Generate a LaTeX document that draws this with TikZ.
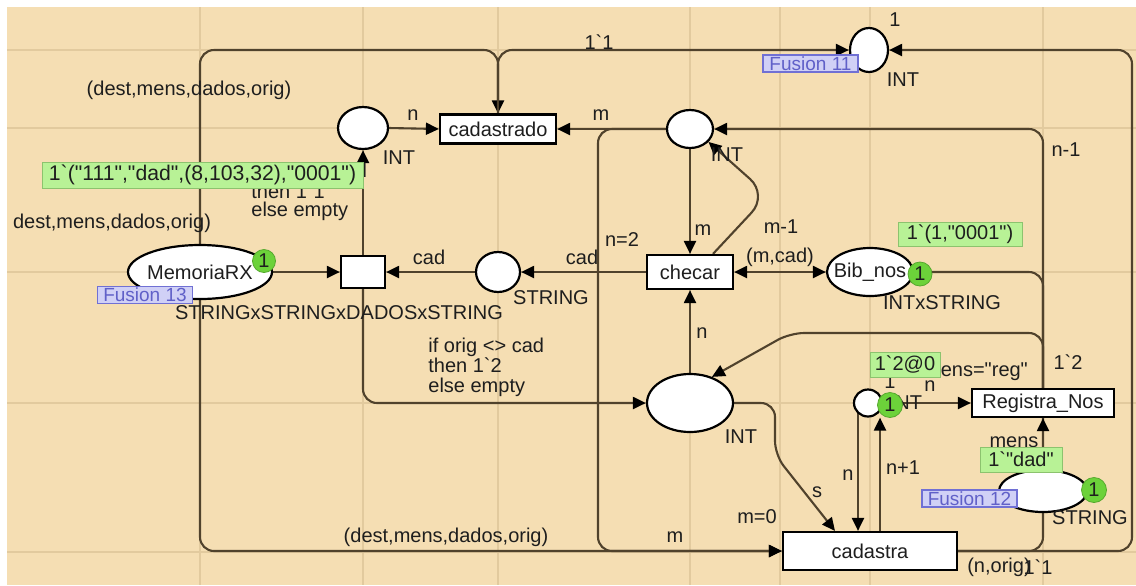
\documentclass[tikz,border=0pt]{standalone}
\usepackage{fontspec}
\newfontfamily\cpnfont{Liberation Sans}
\usetikzlibrary{shapes.geometric,arrows.meta}

\definecolor{bgc}{RGB}{245,222,179}
\definecolor{gridc}{RGB}{226,202,158}
\definecolor{arcc}{RGB}{80,66,44}
\definecolor{txtc}{RGB}{30,30,30}
\definecolor{markc}{RGB}{184,242,150}
\definecolor{markd}{RGB}{140,195,110}
\definecolor{tokc}{RGB}{108,210,58}
\definecolor{fusc}{RGB}{208,208,246}
\definecolor{fusd}{RGB}{112,112,212}
\definecolor{fust}{RGB}{96,96,200}

\pgfdeclarelayer{back}
\pgfdeclarelayer{mid}
\pgfsetlayers{back,mid,main}

\begin{document}
\begin{tikzpicture}[x=0.5pt,y=-0.5pt,>={Triangle[length=6.5pt,width=6pt,color=black]},
  every node/.style={font=\cpnfont,text=txtc},
  place/.style={ellipse,draw,fill=white,line width=1.1pt,inner sep=0pt},
  trans/.style={rectangle,draw,fill=white,line width=1.1pt,inner sep=0pt},
  arc/.style={draw=arcc,line width=1.05pt,rounded corners=7pt,->},
  markbox/.style={rectangle,fill=markc,draw=markd,line width=0.4pt,inner sep=1pt},
  token/.style={circle,fill=tokc,draw=tokc!80!black,line width=0.4pt,inner sep=0pt},
  fusion/.style={rectangle,fill=fusc,draw=fusd,line width=0.6pt,inner sep=0.5pt,
    text=fust,font=\cpnfont\fontsize{9.5}{10}\selectfont,
    minimum width=47.5pt,minimum height=8.5pt},
  lab/.style={inner sep=0pt}]
  \useasboundingbox (0,0) rectangle (1136,585);

  % page and grid
  \begin{pgfonlayer}{back}
    \fill[white] (0,0) rectangle (1136,585);
    \fill[bgc] (7,7) rectangle (1136,585);
    \foreach \gx in {200,363,498,690,780,870,1043}
      \draw[gridc,line width=0.8pt] (\gx,7) -- (\gx,585);
    \foreach \gy in {50,128,272,403,552}
      \draw[gridc,line width=0.8pt] (7,\gy) -- (1136,\gy);
  \end{pgfonlayer}

  % places
  \node[place,minimum width=72pt,minimum height=27pt,label=center:MemoriaRX] (mem) at (200,272) {};
  \node[place,minimum width=25pt,minimum height=21pt] (intl) at (363,128) {};
  \node[place,minimum width=23pt,minimum height=19pt] (ptop) at (690,129) {};
  \node[place,minimum width=22pt,minimum height=20pt] (pstr) at (498,272) {};
  \node[place,minimum width=43pt,minimum height=24pt,label=center:Bib\_nos] (bib) at (870,272) {};
  \node[place,minimum width=43pt,minimum height=29pt] (pbig) at (690,403) {};
  \node[place,minimum width=14pt,minimum height=13.5pt] (psm) at (868,403) {};
  \node[place,minimum width=19pt,minimum height=22pt] (f11) at (869,50) {};
  \node[place,minimum width=44pt,minimum height=21pt] (f12) at (1043,491) {};

  % transitions
  \node[trans,minimum width=58pt,minimum height=14.5pt] (tcad) at (498,129) {cadastrado};
  \node[trans,minimum width=22pt,minimum height=16pt] (tsel) at (363,272) {};
  \node[trans,minimum width=43pt,minimum height=17pt] (tche) at (690,272) {checar};
  \node[trans,minimum width=71pt,minimum height=14pt] (treg) at (1043,403) {Registra\_Nos};
  \node[trans,minimum width=87pt,minimum height=19pt] (tcda) at (870,551) {cadastra};

  % arcs
  \begin{pgfonlayer}{mid}
    \draw[arc] (mem.north) -- (200,50) -- (498,50) -- (tcad.north);
    \draw[arc] (tcad.north) -- (498,50) -- (f11.west);
    \draw[arc] (tcda.east) -- (1132,551) -- (1132,50) -- (f11.east);
    \draw[arc] (tcda.east) -- (1043,551) -- (1043,272) -- (bib.east);
    \draw[arc] (treg.north) -- (1043,129) -- (ptop.east);
    \draw[arc] (treg.north) -- (1043,333) -- (790,333) -- (pbig.50);
    \draw[arc] (f12.north) -- (treg.south);
    \draw[arc] (psm.east) -- (treg.west);
    \draw[arc] ([xshift=-5pt]psm.center) -- ([xshift=-5pt]psm.south |- tcda.north);
    \draw[arc] ([xshift=5pt]tcda.north) -- ([xshift=5pt]tcda.north |- psm.south);
    \draw[arc] (pbig.east) -- (775,403) -- (775,455) -- ([xshift=-17.5pt]tcda.north);
    \draw[arc] (ptop.west) -- (598,129) -- (598,551) -- (tcda.west);
    \draw[arc] (ptop.west) -- (tcad.east);
    \draw[arc] (intl.east) -- (tcad.west);
    \draw[arc] (tsel.north) -- (intl.south);
    \draw[arc] (mem.east) -- (tsel.west);
    \draw[arc] (pstr.west) -- (tsel.east);
    \draw[arc] (tche.west) -- (pstr.east);
    \draw[arc] (ptop.south) -- (tche.north);
    \draw[arc,rounded corners=12pt] ([xshift=11.5pt]tche.north) -- (768,195) -- (ptop.-35);
    \draw[arc,<->] (tche.east) -- (bib.west);
    \draw[arc] (pbig.north) -- (tche.south);
    \draw[arc] (tsel.south) -- (363,403) -- (pbig.west);
    \draw[arc] (mem.south) -- (200,551) -- (tcda.west);
  \end{pgfonlayer}

  % inscriptions
  \node[lab] (a1) at (189,90) {(dest,mens,dados,orig)};
  \node[lab] (a16) at (112,223) {dest,mens,dados,orig)};
  \node[lab] (a24) at (446,537) {(dest,mens,dados,orig)};
  \node[lab] (a2) at (599,42) {1`1};
  \node[lab] (a14) at (413,115) {n};
  \node[lab] (a13) at (601,115) {m};
  \node[lab] (f11i) at (895,20) {1};
  \node[lab] (f11t) at (903,80) {INT};
  \node[lab] (a5) at (1066,150) {n-1};
  \node[lab] (intlt) at (399,158) {INT};
  \node[lab] (ptopt) at (727,155) {INT};
  \node[lab] (gche) at (622,240) {n=2};
  \node[lab] (a19) at (703,230) {m};
  \node[lab] (a20) at (781,227) {m-1};
  \node[lab] (a21) at (780,257) {(m,cad)};
  \node[lab] (a17) at (429,257) {cad};
  \node[lab] (a18) at (582,257) {cad};
  \node[lab] (pstrt) at (551,298) {STRING};
  \node[lab] (memt) at (339,313) {STRINGxSTRINGxDADOSxSTRING};
  \node[lab] (bibt) at (942,303) {INTxSTRING};
  \node[lab] (a22) at (702,333) {n};
  \node[lab,align=left,anchor=west,font=\cpnfont\fontsize{10}{10}\selectfont] (a23) at (428,367)
    {if orig <> cad\\then 1`2\\else empty};
  \node[lab,align=left,anchor=west,font=\cpnfont\fontsize{10}{9}\selectfont] (a15) at (251,192)
    {if orig <> cad\\then 1`1\\else empty};
  \node[lab] (a6) at (1068,362) {1`2};
  \node[lab] (greg) at (976,372) {mens="reg"};
  \node[lab] (psmi) at (890,382) {1};
  \node[lab] (a8) at (930,386) {n};
  \node[lab] (psmt) at (906,403) {INT};
  \node[lab] (pbigt) at (741,437) {INT};
  \node[lab] (a11) at (817,492) {s};
  \node[lab] (a9) at (848,475) {n};
  \node[lab] (a10) at (903,468) {n+1};
  \node[lab] (gcda) at (757,517) {m=0};
  \node[lab] (a12) at (675,537) {m};
  \node[lab] (a4) at (999,567) {(n,orig)};
  \node[lab] (a3) at (1038,567) {1`1};
  \node[lab] (a7) at (1014,442) {mens};
  \node[lab] (f12t) at (1090,518) {STRING};

  % tokens
  \node[token,minimum size=11.5pt] (k1) at (264,261) {1};
  \node[token,minimum size=12pt] (k2) at (920,274) {1};
  \node[token,minimum size=12.5pt] (k3) at (890,405) {1};
  \node[token,minimum size=12.5pt] (k4) at (1094,490) {1};

  % markings
  \node[markbox,minimum width=160.5pt,minimum height=13pt,font=\cpnfont\fontsize{10.6}{12}\selectfont] (m1) at (202.5,175) {1`("111","dad",(8,103,32),"0001")};
  \node[markbox,minimum width=62pt,minimum height=12pt] (m2) at (960,234) {1`(1,"0001")};
  \node[markbox,minimum width=35pt,minimum height=12.5pt] (m3) at (905,364.5) {1`2@0};
  \node[markbox,minimum width=41pt,minimum height=12.5pt] (m4) at (1021,459.5) {1`"dad"};

  % fusion tags
  \node[fusion] (fu11) at (810.5,63.5) {Fusion 11};
  \node[fusion] (fu13) at (145,295) {Fusion 13};
  \node[fusion] (fu12) at (969.5,498.5) {Fusion 12};
\end{tikzpicture}
\end{document}
